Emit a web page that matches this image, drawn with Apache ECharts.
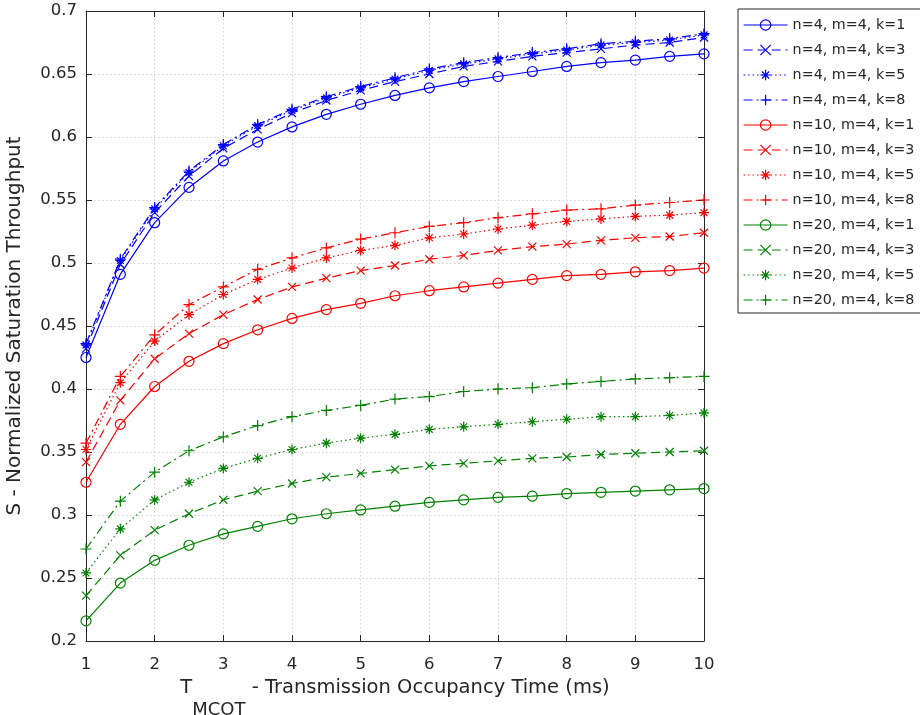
<!DOCTYPE html>
<html>
<head>
<meta charset="utf-8">
<script src="https://cdn.jsdelivr.net/npm/echarts@6/dist/echarts.min.js"></script>
<style>
  html, body { margin: 0; padding: 0; background: #ffffff; }
  #chart { width: 920px; height: 715px; }
</style>
</head>
<body>
<div id="chart"></div>
<script>
// Transmission occupancy time T_MCOT (ms)
const tmcot = [1, 1.5, 2, 2.5, 3, 3.5, 4, 4.5, 5, 5.5, 6, 6.5, 7, 7.5, 8, 8.5, 9, 9.5, 10];

// Normalized saturation throughput, n = 4 stations
const n4k1 = [0.425, 0.491, 0.532, 0.560, 0.581, 0.596, 0.608, 0.618, 0.626, 0.633, 0.639, 0.644, 0.648, 0.652, 0.656, 0.659, 0.661, 0.664, 0.666];
const n4k3 = [0.432, 0.499, 0.540, 0.569, 0.591, 0.606, 0.619, 0.629, 0.637, 0.644, 0.650, 0.656, 0.660, 0.664, 0.667, 0.670, 0.673, 0.675, 0.679];
const n4k5 = [0.435, 0.502, 0.543, 0.572, 0.593, 0.609, 0.621, 0.631, 0.639, 0.646, 0.653, 0.658, 0.662, 0.666, 0.669, 0.673, 0.675, 0.677, 0.681];
const n4k8 = [0.436, 0.503, 0.544, 0.573, 0.594, 0.610, 0.622, 0.632, 0.640, 0.647, 0.654, 0.659, 0.663, 0.667, 0.670, 0.674, 0.676, 0.678, 0.682];

// n = 10 stations
const n10k1 = [0.326, 0.372, 0.402, 0.422, 0.436, 0.447, 0.456, 0.463, 0.468, 0.474, 0.478, 0.481, 0.484, 0.487, 0.490, 0.491, 0.493, 0.494, 0.496];
const n10k3 = [0.342, 0.391, 0.424, 0.444, 0.459, 0.471, 0.481, 0.488, 0.494, 0.498, 0.503, 0.506, 0.510, 0.513, 0.515, 0.518, 0.520, 0.521, 0.524];
const n10k5 = [0.352, 0.405, 0.438, 0.459, 0.475, 0.487, 0.496, 0.504, 0.510, 0.514, 0.520, 0.523, 0.527, 0.530, 0.533, 0.535, 0.537, 0.538, 0.540];
const n10k8 = [0.357, 0.410, 0.443, 0.467, 0.481, 0.495, 0.504, 0.512, 0.519, 0.524, 0.529, 0.532, 0.536, 0.539, 0.542, 0.543, 0.546, 0.548, 0.550];

// n = 20 stations
const n20k1 = [0.216, 0.246, 0.264, 0.276, 0.285, 0.291, 0.297, 0.301, 0.304, 0.307, 0.310, 0.312, 0.314, 0.315, 0.317, 0.318, 0.319, 0.320, 0.321];
const n20k3 = [0.236, 0.268, 0.288, 0.301, 0.312, 0.319, 0.325, 0.330, 0.333, 0.336, 0.339, 0.341, 0.343, 0.345, 0.346, 0.348, 0.349, 0.350, 0.351];
const n20k5 = [0.254, 0.289, 0.312, 0.326, 0.337, 0.345, 0.352, 0.357, 0.361, 0.364, 0.368, 0.370, 0.372, 0.374, 0.376, 0.378, 0.378, 0.379, 0.381];
const n20k8 = [0.273, 0.311, 0.334, 0.351, 0.362, 0.371, 0.378, 0.383, 0.387, 0.392, 0.394, 0.398, 0.400, 0.401, 0.404, 0.406, 0.408, 0.409, 0.410];

const seriesNames = [
  'n=4, m=4, k=1', 'n=4, m=4, k=3', 'n=4, m=4, k=5', 'n=4, m=4, k=8',
  'n=10, m=4, k=1', 'n=10, m=4, k=3', 'n=10, m=4, k=5', 'n=10, m=4, k=8',
  'n=20, m=4, k=1', 'n=20, m=4, k=3', 'n=20, m=4, k=5', 'n=20, m=4, k=8'
];
const seriesValues = [n4k1, n4k3, n4k5, n4k8, n10k1, n10k3, n10k5, n10k8, n20k1, n20k3, n20k5, n20k8];

const yTicks = { min: 0.2, max: 0.7, step: 0.05 };
const xTicks = { min: 1, max: 10, step: 1 };

// Styling: one colour per n, one marker / dash per k
const colours = ['#0000ff', '#ff0000', '#008000'];
const markers = [
  { symbol: 'circle', size: 10 },
  { symbol: 'path://M0,0L10,10M10,0L0,10', size: 8 },
  { symbol: 'path://M5,0L5,10M0,5L10,5M1.6,1.6L8.4,8.4M8.4,1.6L1.6,8.4', size: 10 },
  { symbol: 'path://M5,0L5,10M0,5L10,5', size: 11 }
];
const dashes = ['solid', [9, 5], [1.5, 3], [9, 4, 2, 4]];

const TEXT = '#262626';
const FONT = 'DejaVu Sans';
const LW = 1.2;

const series = [];
const legendData = [];
seriesNames.forEach((name, i) => {
  const c = colours[Math.floor(i / 4)];
  const m = markers[i % 4];
  const dash = dashes[i % 4];
  series.push({
    name: name,
    type: 'line',
    data: tmcot.map((t, j) => [t, seriesValues[i][j]]),
    symbol: m.symbol,
    symbolSize: m.size,
    symbolKeepAspect: true,
    showAllSymbol: true,
    clip: false,
    lineStyle: { color: c, width: LW, type: dash },
    itemStyle: { color: 'transparent', borderColor: c, borderWidth: LW },
    emphasis: { disabled: true }
  });
  legendData.push({
    name: name,
    itemStyle: { color: 'transparent', borderColor: c, borderWidth: LW },
    lineStyle: { color: c, width: LW, type: dash }
  });
});

const axisLineStyle = { color: TEXT, width: 1 };
const gridLine = { show: true, lineStyle: { color: '#d2d2d2', width: 1, type: [1.5, 2.5] } };

const option = {
  backgroundColor: '#ffffff',
  animation: false,
  grid: { left: 86, right: 216, top: 11, bottom: 74, outerBoundsMode: 'none', containLabel: false },
  legend: {
    orient: 'vertical',
    left: 738,
    top: 9,
    data: legendData,
    itemWidth: 44,
    itemHeight: 13,
    itemGap: 7,
    padding: [7, 8, 4, 5],
    borderColor: TEXT,
    borderWidth: 1,
    backgroundColor: '#ffffff',
    selectedMode: false,
    textStyle: { color: TEXT, fontFamily: FONT, fontSize: 14.3, lineHeight: 18 }
  },
  xAxis: [
    {
      type: 'value',
      min: xTicks.min, max: xTicks.max, interval: xTicks.step,
      position: 'bottom',
      axisLine: { show: true, onZero: false, lineStyle: axisLineStyle },
      axisTick: { show: true, inside: true, length: 6, lineStyle: axisLineStyle },
      axisLabel: { color: TEXT, fontFamily: FONT, fontSize: 16.5, margin: 15 },
      splitLine: gridLine,
      name: '{t|T}{s|MCOT}{t| - Transmission Occupancy Time (ms)}',
      nameLocation: 'middle',
      nameGap: 30,
      nameTextStyle: {
        rich: {
          t: { fontFamily: FONT, fontSize: 19.5, color: TEXT, lineHeight: 24, verticalAlign: 'top' },
          s: { fontFamily: FONT, fontSize: 18, color: TEXT, lineHeight: 22, verticalAlign: 'top', padding: [23, 0, 0, 0] }
        }
      }
    },
    {
      type: 'value',
      min: xTicks.min, max: xTicks.max, interval: xTicks.step,
      position: 'top',
      axisLine: { show: true, onZero: false, lineStyle: axisLineStyle },
      axisTick: { show: true, inside: true, length: 6, lineStyle: axisLineStyle },
      axisLabel: { show: false },
      splitLine: { show: false }
    }
  ],
  yAxis: [
    {
      type: 'value',
      min: yTicks.min, max: yTicks.max, interval: yTicks.step,
      position: 'left',
      axisLine: { show: true, onZero: false, lineStyle: axisLineStyle },
      axisTick: { show: true, inside: true, length: 6, lineStyle: axisLineStyle },
      axisLabel: {
        color: TEXT, fontFamily: FONT, fontSize: 16.5, margin: 9,
        formatter: v => String(+v.toFixed(2))
      },
      splitLine: gridLine,
      name: 'S - Normalized Saturation Throughput',
      nameLocation: 'middle',
      nameGap: 59,
      nameTextStyle: { fontFamily: FONT, fontSize: 20, color: TEXT, lineHeight: 24 }
    },
    {
      type: 'value',
      min: yTicks.min, max: yTicks.max, interval: yTicks.step,
      position: 'right',
      axisLine: { show: true, onZero: false, lineStyle: axisLineStyle },
      axisTick: { show: true, inside: true, length: 6, lineStyle: axisLineStyle },
      axisLabel: { show: false },
      splitLine: { show: false }
    }
  ],
  series: series
};

const chart = echarts.init(document.getElementById('chart'), null, { renderer: 'canvas' });
chart.setOption(option);
</script>
</body>
</html>
